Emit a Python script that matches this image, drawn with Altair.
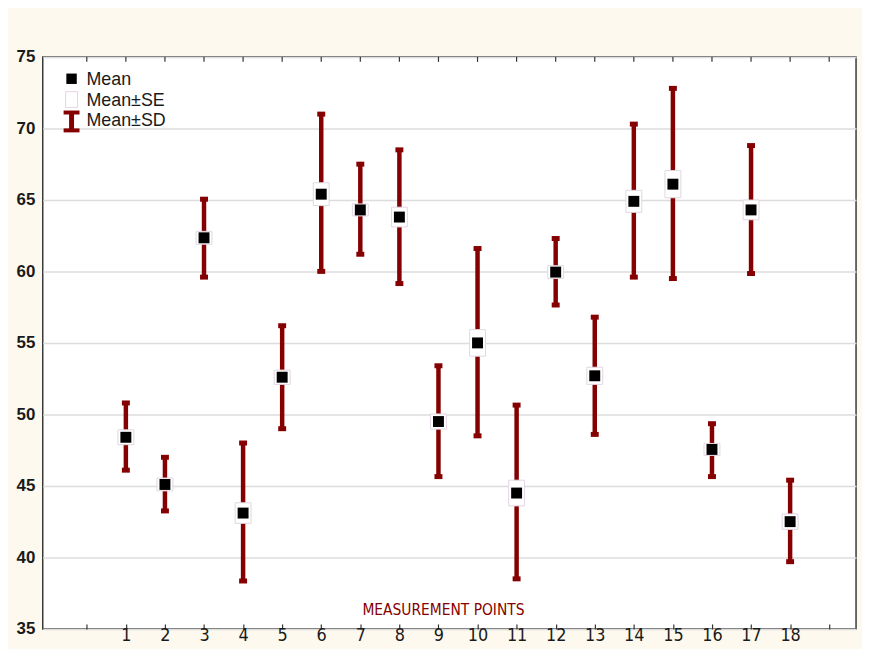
import altair as alt
import pandas as pd

points = list(range(1, 19))
means = [48.4, 45.1, 62.35, 43.1, 52.6, 65.4, 64.3, 63.8, 49.5, 55.0, 44.5, 59.95, 52.7, 64.9, 66.1, 47.55, 64.3, 42.5]
sd_hi = [50.8, 47.0, 65.05, 48.0, 56.2, 71.0, 67.5, 68.5, 53.4, 61.6, 50.65, 62.3, 56.8, 70.3, 72.8, 49.35, 68.8, 45.4]
sd_lo = [46.1, 43.25, 59.6, 38.35, 49.0, 60.0, 61.2, 59.15, 45.65, 48.5, 38.5, 57.65, 48.6, 59.6, 59.5, 45.65, 59.85, 39.7]
se = [0.52, 0.45, 0.45, 0.72, 0.5, 0.8, 0.42, 0.69, 0.53, 0.93, 0.9, 0.45, 0.6, 0.77, 0.95, 0.42, 0.69, 0.54]

x_ticks = list(range(0, 20))
y_ticks = list(range(35, 80, 5))
legend_labels = ["Mean", "Mean±SE", "Mean±SD"]

df = pd.DataFrame({"point": points, "mean": means, "hi": sd_hi, "lo": sd_lo, "se": se})
df["se_hi"] = df["mean"] + df["se"]
df["se_lo"] = df["mean"] - df["se"]

RED = "#850000"
FONT = "Liberation Sans"
NARROW = "DejaVu Sans Condensed"

xscale = alt.Scale(domain=[-1, 19.56], nice=False, zero=False)
yscale = alt.Scale(domain=[35, 75], nice=False, zero=False)

x_axis = alt.Axis(
    values=x_ticks, orient="bottom", offset=-5, domain=False, grid=False,
    tickSize=5, tickColor="#333", tickWidth=1.2,
    labelExpr="datum.value >= 1 && datum.value <= 18 ? datum.label : ''",
    labelFont=NARROW, labelFontSize=18, labelColor="#1a1a1a", labelPadding=-2,
    title="MEASUREMENT POINTS", titleFont=NARROW, titleFontSize=15.5, titleFontWeight="normal",
    titleColor=RED, titleX=403, titleY=-14, titleBaseline="middle", titleAnchor="middle",
)
y_axis = alt.Axis(
    values=y_ticks, domain=False, ticks=False, grid=True, gridColor="#dcdcdc", gridWidth=1.5,
    labelFont=FONT, labelFontSize=17, labelFontWeight="bold", labelColor="#1a1a1a",
    labelPadding=8, title=None,
)


def X(field):
    return alt.X(field, scale=xscale, axis=x_axis)


def Y(field):
    return alt.Y(field, scale=yscale, axis=y_axis)


base = alt.Chart(df)

sd_rule = base.mark_rule(color=RED, strokeWidth=4.5).encode(
    x=X("point:Q"), y=Y("lo:Q"), y2="hi:Q"
)
cap_hi = base.mark_tick(color=RED, orient="horizontal", size=8, thickness=5, opacity=1).encode(
    x=X("point:Q"), y=Y("hi:Q")
)
cap_lo = base.mark_tick(color=RED, orient="horizontal", size=8, thickness=5, opacity=1).encode(
    x=X("point:Q"), y=Y("lo:Q")
)
se_box = base.mark_bar(size=16, fill="white", stroke="#e2d6e2", strokeWidth=1).encode(
    x=X("point:Q"), y=Y("se_lo:Q"), y2="se_hi:Q"
)
mean_pt = base.mark_square(size=121, color="black", opacity=1).encode(
    x=X("point:Q"), y=Y("mean:Q")
)

# top-edge ticks (inside the frame)
top_ticks = alt.Chart(pd.DataFrame({"t": x_ticks})).mark_rule(color="#333", strokeWidth=1.2).encode(
    x=X("t:Q"), y=alt.value(0), y2=alt.value(5)
)

# legend (decoration)
one = pd.DataFrame({"k": [0]})
leg_sq = alt.Chart(one).mark_square(size=110, color="black", opacity=1).encode(
    x=alt.value(29), y=alt.value(22))
leg_se = alt.Chart(one).mark_rect(fill="white", stroke="#e2d6e2", strokeWidth=1).encode(
    x=alt.value(23), x2=alt.value(35), y=alt.value(35), y2=alt.value(51))
leg_sd_stem = alt.Chart(one).mark_rule(color=RED, strokeWidth=5).encode(
    x=alt.value(29), y=alt.value(56), y2=alt.value(75))
leg_sd_cap1 = alt.Chart(one).mark_rect(color=RED).encode(
    x=alt.value(21), x2=alt.value(37), y=alt.value(54), y2=alt.value(58))
leg_sd_cap2 = alt.Chart(one).mark_rect(color=RED).encode(
    x=alt.value(21), x2=alt.value(37), y=alt.value(72), y2=alt.value(76))
leg_txt = [
    alt.Chart(one).mark_text(align="left", baseline="middle", font=FONT, fontSize=18,
                             color="#1a1a1a").encode(
        x=alt.value(44), y=alt.value(yy), text=alt.value(lab))
    for lab, yy in zip(legend_labels, [23, 44, 65])
]

chart = alt.layer(
    sd_rule, cap_hi, cap_lo, se_box, mean_pt, top_ticks,
    leg_sq, leg_se, leg_sd_stem, leg_sd_cap1, leg_sd_cap2, *leg_txt,
).properties(
    width=819, height=576,
    padding={"left": 35, "top": 47, "right": 6, "bottom": 18},
    autosize=alt.AutoSizeParams(type="none"),
    background="#fdf9ee",
).configure_view(fill="white", stroke="#3a3a3a", strokeWidth=1.5)

chart.save("out.html", embed_options={"renderer": "svg", "actions": False})
